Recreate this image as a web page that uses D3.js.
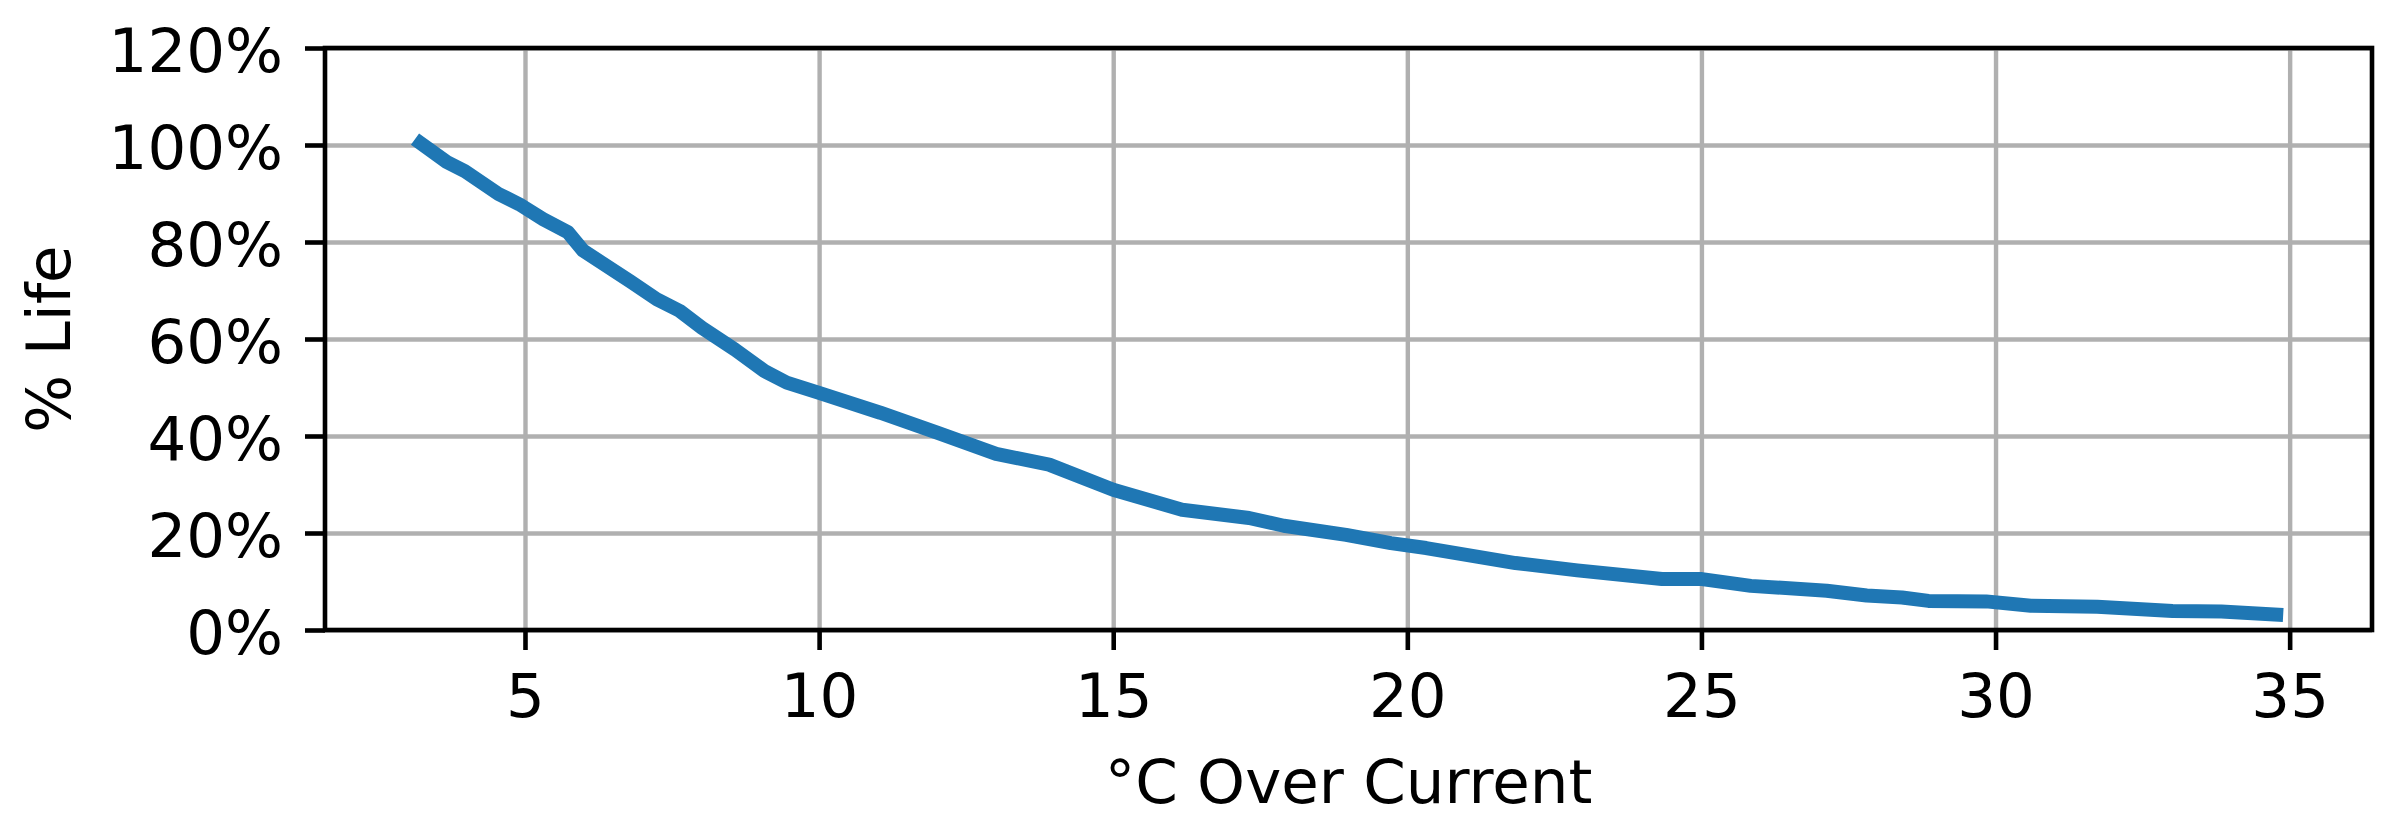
<!DOCTYPE html>
<html>
<head>
<meta charset="utf-8">
<script src="https://cdn.jsdelivr.net/npm/d3@7"></script>
<style>
  body { margin: 0; background: #fff; }
  text { font-family: "DejaVu Sans", sans-serif; }
</style>
</head>
<body>
<div id="chart"></div>
<script>
// =================================== DATA ===================================

// °C over current
const overTemp = [3.13, 3.67, 3.98, 4.55, 4.90, 5.31, 5.73, 5.99, 6.79, 7.24, 7.63, 8.01,
  8.57, 9.07, 9.45, 10.0, 11.04, 12.03, 13.01, 13.91, 15.0, 16.17, 17.31, 17.9,
  18.96, 19.72, 20.32, 21.84, 22.89, 24.33, 25.01, 25.84, 27.13, 27.81, 28.41,
  28.86, 29.84, 30.6, 31.73, 33.01, 33.84, 34.89]

// % life remaining
const lifePct = [101.2, 96.5, 94.6, 89.9, 87.8, 84.7, 82.0, 78.2, 71.9, 68.2, 65.8, 62.3,
  57.8, 53.4, 51.0, 48.9, 44.8, 40.6, 36.3, 34.1, 28.9, 24.8, 23.1, 21.5,
  19.6, 17.9, 16.9, 13.8, 12.3, 10.5, 10.5, 9.1, 8.1, 7.1, 6.7,
  6.0, 5.9, 5.0, 4.8, 3.9, 3.8, 3.1]

const xTicks = [5, 10, 15, 20, 25, 30, 35]
const yTicks = [0, 20, 40, 60, 80, 100, 120]

// =================================== GRAPH SETTINGS ===================================

const W = 2392, H = 819
const margin = { top: 48, right: 20, bottom: 189, left: 325 }
const width = 2372 - margin.left
const height = 630 - margin.top

const svg = d3.select('#chart').append('svg')
  .attr('width', W)
  .attr('height', H)

const g = svg.append('g')
  .attr('transform', `translate(${margin.left},${margin.top})`)

const x = d3.scaleLinear().domain([1.6, 36.4]).range([0, width])
const y = d3.scaleLinear().domain([0, 120]).range([height, 0])

const fontSize = 61

// =================================== GRID ===================================

g.append('g')
  .attr('transform', `translate(0,${height})`)
  .call(d3.axisBottom(x).tickValues(xTicks).tickSize(-height).tickFormat(''))
  .call(s => s.select('.domain').remove())
  .selectAll('line').attr('stroke', '#b0b0b0').attr('stroke-width', 4.4)

g.append('g')
  .call(d3.axisLeft(y).tickValues(yTicks).tickSize(-width).tickFormat(''))
  .call(s => s.select('.domain').remove())
  .selectAll('line').attr('stroke', '#b0b0b0').attr('stroke-width', 4.4)

// =================================== LINE ===================================

const pts = overTemp.map((d, i) => [d, lifePct[i]])

g.append('path')
  .datum(pts)
  .attr('fill', 'none')
  .attr('stroke', '#1f77b4')
  .attr('stroke-width', 14)
  .attr('stroke-linejoin', 'round')
  .attr('stroke-linecap', 'butt')
  .attr('d', d3.line().x(d => x(d[0])).y(d => y(d[1])))

// =================================== AXES ===================================

const xAxis = g.append('g')
  .attr('transform', `translate(0,${height})`)
  .call(d3.axisBottom(x).tickValues(xTicks).tickSize(20).tickPadding(20).tickFormat(d3.format('d')))
xAxis.select('.domain').remove()
xAxis.selectAll('line').attr('stroke', '#000').attr('stroke-width', 4.6)
xAxis.selectAll('text')
  .attr('fill', '#000')
  .style('font-size', fontSize + 'px')
  .attr('y', 87).attr('dy', 0)

const yAxis = g.append('g')
  .call(d3.axisLeft(y).tickValues(yTicks).tickSize(20).tickPadding(22).tickFormat(d => d + '%'))
yAxis.select('.domain').remove()
yAxis.selectAll('line').attr('stroke', '#000').attr('stroke-width', 4.6)
yAxis.selectAll('text')
  .attr('fill', '#000')
  .style('font-size', fontSize + 'px')
  .attr('dy', '0.39em')

// spines
g.append('rect')
  .attr('width', width)
  .attr('height', height)
  .attr('fill', 'none')
  .attr('stroke', '#000')
  .attr('stroke-width', 4.6)
  .attr('stroke-linejoin', 'miter')
  .attr('stroke-linecap', 'square')

// =================================== LABELS ===================================

svg.append('text')
  .attr('x', margin.left + width / 2)
  .attr('y', 803)
  .attr('text-anchor', 'middle')
  .style('font-size', fontSize + 'px')
  .text('°C Over Current')

svg.append('text')
  .attr('transform', `translate(70,${margin.top + height / 2}) rotate(-90)`)
  .attr('text-anchor', 'middle')
  .style('font-size', fontSize + 'px')
  .text('% Life')
</script>
</body>
</html>
